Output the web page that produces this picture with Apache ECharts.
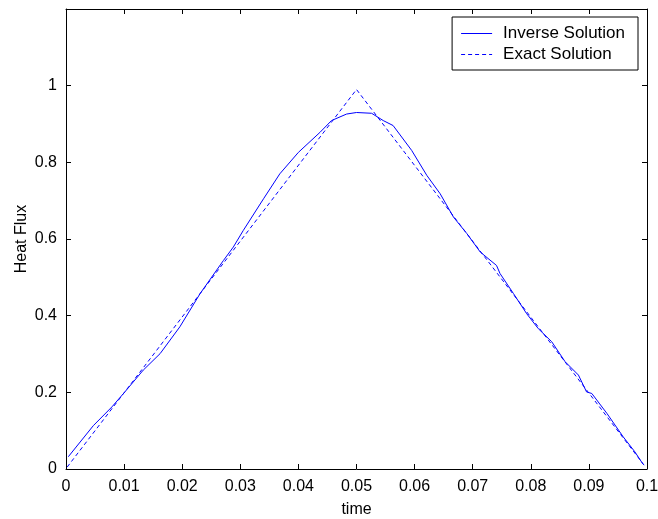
<!DOCTYPE html>
<html>
<head>
<meta charset="utf-8">
<script src="https://cdn.jsdelivr.net/npm/echarts@6/dist/echarts.min.js"></script>
<style>html,body{margin:0;padding:0;background:#fff}#c{width:658px;height:519px}</style>
</head>
<body>
<div id="c"></div>
<script>
var xTicks = [0, 0.01, 0.02, 0.03, 0.04, 0.05, 0.06, 0.07, 0.08, 0.09, 0.1];
var yTicks = [0, 0.2, 0.4, 0.6, 0.8, 1];
var seriesNames = ['Inverse Solution', 'Exact Solution'];
var inverseT = [0.0004,0.0047,0.0079,0.0099,0.0133,0.0162,0.0196,0.0231,0.0271,0.0288,0.0305,0.0340,0.0368,0.0400,0.0437,0.0457,0.0483,0.0500,0.0526,0.0546,0.0563,0.0595,0.0621,0.0644,0.0667,0.0690,0.0713,0.0741,0.0747,0.0770,0.0793,0.0813,0.0836,0.0859,0.0882,0.0896,0.0905,0.0931,0.0959,0.0979,0.0993];
var inverseV = [0.032,0.113,0.162,0.197,0.258,0.301,0.371,0.458,0.544,0.579,0.622,0.705,0.770,0.826,0.878,0.909,0.926,0.930,0.928,0.909,0.896,0.831,0.766,0.718,0.657,0.614,0.566,0.531,0.510,0.458,0.405,0.366,0.332,0.280,0.245,0.201,0.197,0.145,0.084,0.045,0.013];
var exactT = [0.0002, 0.05, 0.0995];
var exactV = [0.005, 0.99, 0.01];

function pairs(a, b) { return a.map(function (x, i) { return [x, b[i]]; }); }
var FONT = 'Liberation Sans';
var BLUE = '#0000ff';
var fmtX = function (v) { return String(Math.round(v * 100) / 100); };
var fmtY = function (v) { var r = Math.round(v * 10) / 10; return r > 1.05 ? '' : String(r); };

var chart = echarts.init(document.getElementById('c'), null, {renderer: 'canvas'});
var axisCommon = {
  axisLine: {show: true, onZero: false, lineStyle: {color: '#000', width: 1}},
  axisTick: {show: true, inside: true, length: 5, lineStyle: {color: '#000'}},
  splitLine: {show: false}
};
chart.setOption({
  animation: false,
  backgroundColor: '#fff',
  color: [BLUE, BLUE],
  grid: {left: 66, right: 11, top: 9, bottom: 50, containLabel: false, outerBoundsMode: 'none'},
  legend: {
    orient: 'vertical', right: 20, top: 17,
    data: [
      {name: seriesNames[0], icon: 'path://M0,0h31v1h-31z', itemStyle: {color: BLUE, borderWidth: 0}},
      {name: seriesNames[1], icon: 'path://M0,0h4v1h-4z M7,0h4v1h-4z M14,0h4v1h-4z M21,0h4v1h-4z M28,0h3v1h-3z', itemStyle: {color: BLUE, borderWidth: 0}}
    ],
    backgroundColor: '#fff', borderColor: '#000', borderWidth: 1, borderRadius: 0,
    padding: [8, 13, 7, 9], itemGap: 4, itemWidth: 31, itemHeight: 1,
    textStyle: {fontFamily: FONT, fontSize: 17, color: '#000', padding: [0, 0, 0, 6]}
  },
  xAxis: [
    Object.assign({type: 'value', min: 0, max: 0.1, interval: 0.01, position: 'bottom',
      name: 'time', nameLocation: 'middle', nameGap: 33,
      nameTextStyle: {fontFamily: FONT, fontSize: 16, color: '#000'},
      axisLabel: {fontFamily: FONT, fontSize: 16, color: '#000', margin: 10, formatter: fmtX, showMaxLabel: true, showMinLabel: true}
    }, axisCommon),
    Object.assign({type: 'value', min: 0, max: 0.1, interval: 0.01, position: 'top', axisLabel: {show: false}}, axisCommon)
  ],
  yAxis: [
    Object.assign({type: 'value', min: 0, max: 1.2, interval: 0.2, position: 'left',
      name: 'Heat Flux', nameLocation: 'middle', nameGap: 36, nameMoveOverlap: false,
      nameTextStyle: {fontFamily: FONT, fontSize: 16, color: '#000'},
      axisLabel: {fontFamily: FONT, fontSize: 16, color: '#000', margin: 9, formatter: fmtY}
    }, axisCommon),
    Object.assign({type: 'value', min: 0, max: 1.2, interval: 0.2, position: 'right', axisLabel: {show: false}}, axisCommon)
  ],
  series: [
    {name: seriesNames[0], type: 'line', xAxisIndex: 0, yAxisIndex: 0, symbol: 'none', color: BLUE,
     data: pairs(inverseT, inverseV), lineStyle: {color: BLUE, width: 1}, itemStyle: {color: BLUE}},
    {name: seriesNames[1], type: 'line', xAxisIndex: 0, yAxisIndex: 0, symbol: 'none', color: BLUE,
     data: pairs(exactT, exactV), lineStyle: {color: BLUE, width: 1, type: [4, 3]}, itemStyle: {color: BLUE}}
  ]
});
</script>
</body>
</html>
